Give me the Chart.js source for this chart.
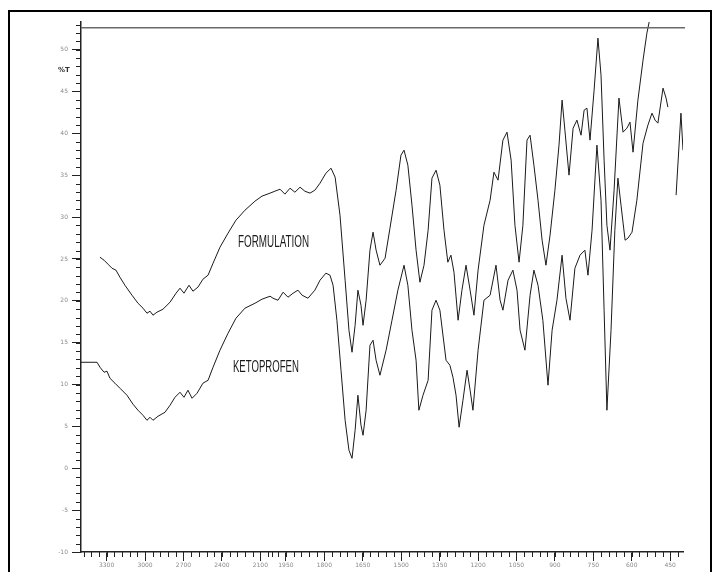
<!DOCTYPE html>
<html>
<head>
<meta charset="utf-8">
<script src="https://cdn.jsdelivr.net/npm/chart.js@4.4.0/dist/chart.umd.min.js"></script>
<style>
  html, body { margin: 0; padding: 0; background: #fff; }
  #wrap { position: relative; width: 720px; height: 572px; overflow: hidden; }
  #frame { position: absolute; left: 8px; top: 10px; width: 704px; height: 620px; border: 2px solid #000; box-sizing: border-box; }
  canvas { position: absolute; left: 0; top: 0; }
</style>
</head>
<body>
<div id="wrap">
  <div id="frame"></div>
  <canvas id="myChart" width="720" height="572" style="width:720px;height:572px"></canvas>
</div>
<script>
// Wavenumbers (cm-1) and %T
const ketoWavenumber = [3500, 3430, 3375, 3352, 3320, 3297, 3274, 3235, 3196, 3141, 3094, 3055, 3016, 2985, 2961, 2938, 2899, 2844, 2805, 2766, 2727, 2696, 2665, 2633, 2594, 2548, 2508, 2469, 2415, 2352, 2290, 2220, 2142, 2087, 2024, 2001,
  1981, 1961, 1942, 1922, 1903, 1887, 1864, 1837, 1817, 1794, 1778, 1766, 1751, 1735, 1719, 1704, 1692, 1680, 1669, 1657, 1649, 1637, 1622, 1610, 1598, 1583, 1559, 1536, 1513, 1489, 1474, 1458, 1442, 1431, 1415, 1395, 1380, 1364, 1349, 1325, 1310, 1298, 1286, 1274, 1259, 1243, 1231, 1220, 1200, 1177, 1153, 1130, 1114, 1103, 1083, 1064, 1048, 1036, 1017, 997, 982, 966, 947, 927, 911, 892, 872, 857, 841, 822, 802, 783, 771, 755, 736, 720, 708, 697, 681, 666, 654, 642, 626, 615, 599, 580, 556, 537, 521, 509, 498, 478, 466, 459,
  440, 427, 408, 400];
const ketoTransmittance = [12.66, 12.66, 12.66, 12.07, 11.47, 11.59, 10.75, 10.16, 9.56, 8.72, 7.65, 6.93, 6.33, 5.73, 6.09, 5.73, 6.21, 6.69, 7.53, 8.48, 9.08, 8.48, 9.32, 8.36, 8.96, 10.16, 10.51, 12.07, 14.10, 16.13, 17.92, 19.12, 19.71, 20.19, 20.55, 20.31,
  20.07, 21.03, 20.43, 20.91, 21.27, 20.67, 20.31, 21.27, 22.46, 23.30, 23.06, 21.86, 17.68, 11.71, 5.73, 2.15, 1.19, 4.54, 8.72, 5.14, 3.94, 6.93, 14.70, 15.29, 12.90, 11.11, 14.10, 17.68, 21.27, 24.25, 21.86, 16.49, 12.90, 6.93, 8.72, 10.51, 18.88, 20.07, 18.88, 12.90, 12.31, 10.87, 8.72, 4.90, 8.12, 11.71, 9.32, 6.93, 14.10, 20.07, 20.67, 24.25, 20.07, 18.88, 22.46, 23.66, 21.27, 16.49, 14.10, 20.67, 23.66, 21.86, 17.68, 9.92, 16.49, 20.07, 25.45, 20.31, 17.68, 23.89, 25.45, 26.05, 23.06, 28.43, 38.59, 32.02, 18.88, 6.93, 16.49, 28.43, 34.65, 31.42, 27.24, 27.48, 28.20, 32.02, 38.83, 40.98, 42.41, 41.58, 41.22, 45.40, 44.21, 43.13,
  null, 32.62, 42.41, 37.99];

const formWavenumber = [3352, 3320, 3289, 3258, 3227, 3196, 3157, 3102, 3055, 3016, 2985, 2961, 2938, 2907, 2860, 2805, 2758, 2727, 2696, 2657, 2626, 2587, 2548, 2508, 2469, 2415, 2352, 2290, 2220, 2142, 2087, 2024,
  1993, 1973, 1954, 1934, 1915, 1895, 1876, 1856, 1837, 1817, 1794, 1774, 1758, 1739, 1719, 1704, 1692, 1680, 1669, 1657, 1649, 1637, 1622, 1610, 1598, 1583, 1563, 1544, 1520, 1501, 1489, 1474, 1458, 1442, 1427, 1411, 1395, 1380, 1364, 1349, 1333, 1318, 1306, 1294, 1278, 1263, 1247, 1231, 1216, 1200, 1177, 1153, 1138, 1122, 1103, 1087, 1071, 1056, 1040, 1025, 1009, 997, 982, 966, 950, 935, 919, 900, 884, 872, 861, 845, 829, 814, 798, 786, 775, 763, 747, 732, 720, 708, 697, 685, 669, 650, 634, 619, 607, 595, 576, 556, 541, 529];
const formTransmittance = [25.21, 24.85, 24.37, 23.89, 23.66, 22.82, 21.86, 20.67, 19.71, 19.12, 18.52, 18.76, 18.28, 18.64, 19.00, 19.83, 20.91, 21.51, 20.91, 21.86, 21.15, 21.63, 22.58, 23.06, 24.49, 26.40, 28.08, 29.63, 30.82, 31.90, 32.50, 32.86,
  33.09, 33.33, 32.74, 33.45, 32.97, 33.57, 33.09, 32.86, 33.21, 34.05, 35.24, 35.84, 34.77, 30.23, 22.46, 16.49, 13.86, 17.08, 21.27, 19.47, 17.08, 20.07, 26.05, 28.20, 26.05, 24.25, 25.09, 28.67, 33.21, 37.40, 37.99, 36.20, 31.42, 26.05, 22.22, 24.25, 28.43, 34.65, 35.60, 33.81, 28.43, 24.61, 25.45, 23.42, 17.68, 21.27, 24.25, 21.27, 18.28, 23.66, 29.03, 32.02, 35.36, 34.41, 39.19, 40.14, 36.80, 29.03, 24.61, 29.03, 39.19, 39.78, 36.20, 32.02, 27.24, 24.25, 27.84, 33.21, 38.59, 43.97, 40.38, 35.01, 40.62, 41.58, 39.78, 42.77, 43.01, 39.19, 45.16, 51.37, 46.95, 36.80, 29.03, 26.05, 33.21, 44.21, 40.14, 40.62, 41.34, 37.75, 43.97, 48.75, 51.97, 53.76];

const xTickLabels = [3300, 3000, 2700, 2400, 2100, 1950, 1800, 1650, 1500, 1350, 1200, 1050, 900, 750, 600, 450];
const yTickLabels = [-10, -5, 0, 5, 10, 15, 20, 25, 30, 35, 40, 45, 50];

// the instrument plots 3500-2000 at half the scale of 2000-400
function toAxis(w) {
  return w >= 2000 ? (3500 - w) / 2 : 750 + (2000 - w);
}

function toPoints(wavenumbers, values) {
  return wavenumbers.map((w, i) => ({ x: toAxis(w), y: values[i] }));
}

// minor tick positions (axis decoration only)
const xMinor = [];
for (let w = 3480; w > 2000; w -= 60) xMinor.push(w);
for (let w = 2010; w >= 400; w -= 30) xMinor.push(w);
const yMinor = [];
for (let v = -10; v <= 53; v++) yMinor.push(v);

const decorPlugin = {
  id: 'decor',
  afterDraw(chart) {
    const ctx = chart.ctx;
    const xs = chart.scales.x;
    const ys = chart.scales.y;
    const area = chart.chartArea;
    ctx.save();
    ctx.strokeStyle = '#222';
    ctx.lineWidth = 1;
    ctx.beginPath();
    xMinor.forEach(w => {
      const px = Math.round(xs.getPixelForValue(toAxis(w))) + 0.5;
      ctx.moveTo(px, area.bottom);
      ctx.lineTo(px, area.bottom + 5);
    });
    yMinor.forEach(v => {
      const py = Math.round(ys.getPixelForValue(v)) + 0.5;
      ctx.moveTo(area.left - 5, py);
      ctx.lineTo(area.left, py);
    });
    ctx.stroke();

    // gray top line of the plot frame
    ctx.strokeStyle = '#6a6a6a';
    ctx.lineWidth = 1.5;
    ctx.beginPath();
    const ty = ys.getPixelForValue(52.6);
    ctx.moveTo(area.left, ty);
    ctx.lineTo(area.right + 2, ty);
    ctx.stroke();

    // %T unit
    ctx.fillStyle = '#333';
    ctx.font = 'bold 7px "DejaVu Sans", sans-serif';
    ctx.textAlign = 'center';
    ctx.textBaseline = 'middle';
    ctx.fillText('%T', area.left - 17, ys.getPixelForValue(47.6));

    // trace names, tall and narrow like the original print
    ctx.font = '16px "Liberation Sans Narrow", "Liberation Sans", sans-serif';
    ctx.fillStyle = '#1a1a1a';
    ctx.textAlign = 'left';
    const names = [['FORMULATION', 2274, 27.0, 71], ['KETOPROFEN', 2314, 12.0, 66]];
    names.forEach(([txt, w, v, width]) => {
      const sx = width / ctx.measureText(txt).width;
      ctx.save();
      ctx.translate(xs.getPixelForValue(toAxis(w)), ys.getPixelForValue(v));
      ctx.scale(sx, 1);
      ctx.fillText(txt, 0, 0);
      ctx.restore();
    });
    ctx.restore();
  }
};

const ctx = document.getElementById('myChart').getContext('2d');

new Chart(ctx, {
  type: 'line',
  data: {
    datasets: [{
      label: 'KETOPROFEN',
      data: toPoints(ketoWavenumber, ketoTransmittance),
      borderColor: '#1a1a1a',
      borderWidth: 1,
      pointRadius: 0,
      tension: 0,
      spanGaps: false
    }, {
      label: 'FORMULATION',
      data: toPoints(formWavenumber, formTransmittance),
      borderColor: '#1a1a1a',
      borderWidth: 1,
      pointRadius: 0,
      tension: 0
    }]
  },
  options: {
    responsive: false,
    animation: false,
    parsing: false,
    layout: { padding: { left: 0, top: 22, right: 37, bottom: 0 } },
    plugins: {
      legend: { display: false },
      tooltip: { enabled: false }
    },
    scales: {
      x: {
        type: 'linear',
        min: 0,
        max: 2350,
        afterBuildTicks: (scale) => {
          scale.ticks = xTickLabels.map(w => ({ value: toAxis(w) }));
        },
        afterFit: (scale) => { scale.height = 20; },
        ticks: {
          autoSkip: false,
          maxRotation: 0,
          padding: 1,
          color: '#8a8a8a',
          font: { family: '"DejaVu Sans", sans-serif', size: 6 },
          callback: (value, index) => xTickLabels[index]
        },
        grid: { drawOnChartArea: false, tickLength: 9, tickColor: '#222', tickWidth: 1 },
        border: { color: '#222', width: 1.5 }
      },
      y: {
        type: 'linear',
        min: -10,
        max: 53.3,
        afterBuildTicks: (scale) => {
          scale.ticks = yTickLabels.map(v => ({ value: v }));
        },
        afterFit: (scale) => { scale.width = 81; },
        ticks: {
          autoSkip: false,
          padding: 4,
          color: '#8a8a8a',
          font: { family: '"DejaVu Sans", sans-serif', size: 6 },
          callback: (value, index) => yTickLabels[index]
        },
        grid: { drawOnChartArea: false, tickLength: 9, tickColor: '#222', tickWidth: 1 },
        border: { color: '#222', width: 1.5 }
      }
    }
  },
  plugins: [decorPlugin]
});
</script>
</body>
</html>
